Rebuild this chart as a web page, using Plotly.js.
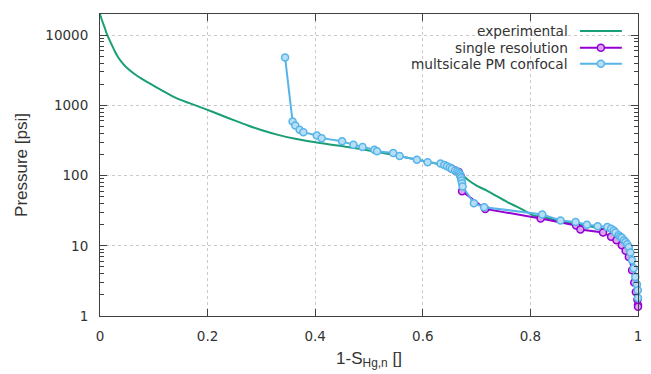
<!DOCTYPE html>
<html>
<head>
<meta charset="utf-8">
<script src="https://cdn.plot.ly/plotly-3.0.1.min.js"></script>
<style>html,body{margin:0;padding:0;background:#fff;}#chart{width:651px;height:374px;}</style>
</head>
<body>
<div id="chart"></div>
<script>
// ---- data ----
const expX = [0, 0.004, 0.008, 0.0136, 0.020, 0.027, 0.034, 0.043, 0.053, 0.07, 0.090, 0.115, 0.140, 0.165, 0.195, 0.223, 0.251, 0.276, 0.301, 0.331, 0.363, 0.409, 0.46, 0.508, 0.555, 0.598, 0.63, 0.657, 0.670, 0.683, 0.70, 0.719, 0.757, 0.788, 0.806, 0.83, 0.86, 0.9, 0.94, 0.96, 0.975, 0.985, 0.992, 0.997, 1.0];
const expY = [20000, 16000, 13200, 10000, 7800, 6000, 4800, 3900, 3260, 2600, 2105, 1640, 1290, 1084, 891, 735, 605, 513, 442, 380, 335, 290, 255, 222, 190, 164, 145, 125, 108, 88, 72, 61, 42, 32, 27, 25, 22, 19.5, 17, 14.5, 11.5, 8.5, 5.5, 3, 1.5];

const singleX = [0.654, 0.660, 0.667, 0.670, 0.673, 0.716, 0.819, 0.885, 0.893, 0.935, 0.950, 0.960, 0.970, 0.977, 0.983, 0.989, 0.993, 0.996, 0.999, 1.0, 1.0];
const singleY = [125, 118, 112, 100, 60, 33.5, 24.5, 19.5, 17, 15.5, 13.5, 12, 10.2, 8.5, 6.9, 4.5, 3, 2.2, 1.7, 1.43, 1.35];

const multiX = [0.344, 0.358, 0.363, 0.371, 0.378, 0.403, 0.412, 0.450, 0.471, 0.488, 0.510, 0.515, 0.545, 0.557, 0.589, 0.609, 0.633, 0.640, 0.645, 0.650, 0.654, 0.660, 0.664, 0.667, 0.669, 0.670, 0.671, 0.672, 0.673, 0.674, 0.695, 0.714, 0.822, 0.856, 0.884, 0.905, 0.925, 0.943, 0.950, 0.955, 0.958, 0.964, 0.967, 0.970, 0.974, 0.977, 0.980, 0.983, 0.986, 0.989, 0.992, 0.995, 0.998, 0.9996, 1.0];
const multiY = [4810, 587, 516, 449, 415, 372, 341, 308, 274, 255, 234, 222, 210, 190, 168, 155, 148, 142, 136, 130, 125, 118, 114, 110, 104, 98, 92, 85, 78, 70, 40.5, 35.5, 28, 23, 21.8, 20, 19, 18.5, 17.5, 16.5, 15.5, 14.1, 13.5, 13, 12, 11.3, 10.5, 9.6, 8, 6.2, 4.8, 3.6, 2.8, 2.33, 1.8];

const seriesNames = ['experimental', 'single resolution', 'multsicale PM confocal'];
const yTickVals = [1, 10, 100, 1000, 10000];
const yTickText = ['1', '10', '100', '1000', '10000'];
const xTickVals = [0, 0.2, 0.4, 0.6, 0.8, 1];
const xTickText = ['0', '0.2', '0.4', '0.6', '0.8', '1'];

// ---- styling ----
const cGreen = '#1a9e77', cPurple = '#9400d3', cBlue = '#56b4e9';
const axisCol = '#404040';
const tickFont = {family: 'DejaVu Sans', size: 13.5, color: '#333'};

const minorVals = [];
for (let d = 0; d < 5; d++) for (let m = 2; m <= 9; m++) { const v = m * Math.pow(10, d); if (v <= 20000) minorVals.push(v); }

const traces = [
  {x: expX, y: expY, mode: 'lines', name: seriesNames[0], line: {color: cGreen, width: 2, shape: 'spline', smoothing: 0.6}, cliponaxis: false},
  {x: singleX, y: singleY, mode: 'lines+markers', name: seriesNames[1], line: {color: cPurple, width: 2},
   marker: {symbol: 'circle', size: 7, color: '#d9a6ef', line: {color: cPurple, width: 1.5}}, cliponaxis: false},
  {x: multiX, y: multiY, mode: 'lines+markers', name: seriesNames[2], line: {color: cBlue, width: 2},
   marker: {symbol: 'circle', size: 7, color: '#b8def5', line: {color: cBlue, width: 1.5}}, cliponaxis: false},
  {x: [], y: [], yaxis: 'y2', showlegend: false, hoverinfo: 'skip'}
];

// legend drawn manually (text left of sample in gnuplot style)
const legRowY = [0.944, 0.888, 0.835];
const legCols = [cGreen, cPurple, cBlue];
const legFill = [null, '#d9a6ef', '#b8def5'];
const shapes = [
  {type: 'rect', xref: 'x domain', yref: 'y domain', x0: 0.513, x1: 0.995, y0: 0.808, y1: 0.995, fillcolor: '#fff', line: {width: 0}, layer: 'below'}
];
const annotations = [];
for (let i = 0; i < 3; i++) {
  annotations.push({xref: 'x domain', yref: 'y domain', x: 0.8736, y: legRowY[i], xanchor: 'right', yanchor: 'middle',
    text: seriesNames[i], showarrow: false, font: {family: 'DejaVu Sans', size: 13.7, color: '#333'}});
  shapes.push({type: 'line', xref: 'x domain', yref: 'y domain', x0: 0.892, x1: 0.970, y0: legRowY[i], y1: legRowY[i],
    line: {color: legCols[i], width: 2}, layer: 'above'});
  if (legFill[i]) {
    shapes.push({type: 'circle', xref: 'x domain', yref: 'y domain', xsizemode: 'pixel', ysizemode: 'pixel',
      xanchor: 0.931, yanchor: legRowY[i], x0: -3.5, x1: 3.5, y0: -3.5, y1: 3.5,
      fillcolor: legFill[i], line: {color: legCols[i], width: 1.5}, layer: 'above'});
  }
}

const layout = {
  width: 651, height: 374,
  margin: {l: 100, r: 13, t: 14, b: 58},
  paper_bgcolor: '#fff', plot_bgcolor: '#fff',
  showlegend: false,
  xaxis: {
    range: [0, 1], tickvals: xTickVals, ticktext: xTickText,
    ticks: 'inside', ticklen: 7, tickcolor: axisCol, tickwidth: 1,
    showline: true, linecolor: axisCol, linewidth: 1, mirror: 'ticks',
    showgrid: true, gridcolor: '#cfc6c6', griddash: 'dot', gridwidth: 1,
    zeroline: false, tickfont: tickFont, ticklabelstandoff: 8,
    title: {text: '1-S<sub>Hg,n</sub> []', font: {family: 'Liberation Sans', size: 17, color: '#333'}, standoff: 8}
  },
  yaxis: {
    type: 'log', range: [0, Math.log10(20000)], tickvals: yTickVals, ticktext: yTickText,
    ticks: 'inside', ticklen: 7, tickcolor: axisCol, tickwidth: 1,
    showline: true, linecolor: axisCol, linewidth: 1, mirror: 'ticks',
    showgrid: true, gridcolor: '#cfc6c6', griddash: 'dot', gridwidth: 1,
    zeroline: false, tickfont: tickFont, ticklabelstandoff: 8,
    title: {text: 'Pressure [psi]', font: {family: 'Liberation Sans', size: 17, color: '#333'}, standoff: 13}
  },
  yaxis2: {
    type: 'log', range: [0, Math.log10(20000)], overlaying: 'y', side: 'left', anchor: 'x',
    tickvals: minorVals, ticks: 'inside', ticklen: 4, tickcolor: axisCol, tickwidth: 1,
    showticklabels: false, showgrid: false, zeroline: false,
    showline: true, linecolor: axisCol, linewidth: 1, mirror: 'ticks'
  },
  shapes: shapes,
  annotations: annotations
};

Plotly.newPlot('chart', traces, layout, {staticPlot: true, displayModeBar: false});
</script>
</body>
</html>
